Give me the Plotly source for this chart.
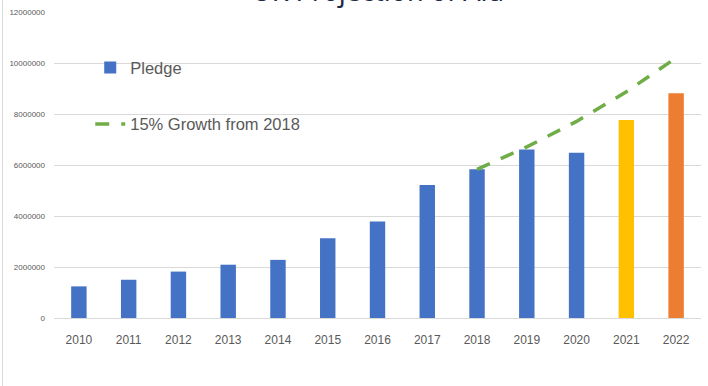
import plotly.graph_objects as go

years = ["2010", "2011", "2012", "2013", "2014", "2015", "2016",
         "2017", "2018", "2019", "2020", "2021", "2022"]
pledge = [1240000, 1500000, 1820000, 2090000, 2280000, 3130000, 3780000,
          5220000, 5830000, 6610000, 6480000, 7760000, 8810000]
bar_colors = ["#4472C4"] * 11 + ["#FFC000", "#ED7D31"]

growth_years = ["2018", "2019", "2020", "2021", "2022"]
growth = [5830000, 6710000, 7710000, 8870000, 10200000]

y_ticks = [0, 2000000, 4000000, 6000000, 8000000, 10000000, 12000000]

W, H = 708, 386
L, R, T, B = 54, 7, 12, 68

fig = go.Figure()
fig.add_trace(go.Bar(
    x=years, y=pledge, name="Pledge",
    marker=dict(color=bar_colors, line=dict(width=0)),
    width=0.31, legendgroup="a",
))
fig.add_trace(go.Scatter(
    x=growth_years, y=growth, name="15% Growth from 2018",
    mode="lines", line=dict(color="#70AD47", width=3.5, dash="14px,12px"),
    legendgroup="b",
))

fig.update_layout(
    width=W, height=H,
    margin=dict(l=L, r=R, t=T, b=B),
    paper_bgcolor="white", plot_bgcolor="white",
    font=dict(family="Liberation Sans, Arial, sans-serif", color="#595959"),
    showlegend=True,
    legend=dict(
        x=0.056, y=0.875, xanchor="left", yanchor="top",
        bgcolor="rgba(0,0,0,0)", borderwidth=0,
        font=dict(size=16.5, color="#595959"),
        traceorder="grouped", tracegroupgap=32,
    ),
    xaxis=dict(
        type="category", range=[-0.5, 12.5],
        showgrid=False, showline=True, linecolor="#d9d9d9", linewidth=1,
        ticks="", tickfont=dict(size=12, color="#595959"),
        ticklabelstandoff=11, zeroline=False,
    ),
    yaxis=dict(
        range=[0, 12000000], tickvals=y_ticks, tickformat="d",
        showgrid=True, gridcolor="#d9d9d9", gridwidth=1.2,
        zeroline=False, showline=False, ticks="",
        tickfont=dict(size=8, color="#595959"),
        ticklabelstandoff=8,
    ),
    bargap=0.69,
)

# title, cropped by the top edge as in the reference
fig.add_annotation(
    text="UK Projection of Aid",
    xref="paper", yref="paper", x=0.5, y=1.0, xanchor="center", yanchor="bottom",
    yshift=1, showarrow=False,
    font=dict(family="Noto Sans, sans-serif", size=27, color="#1F2A44"),
)

# outer chart border on the left
fig.add_shape(type="line", xref="paper", yref="paper",
              x0=(2.5 - L) / (W - L - R), x1=(2.5 - L) / (W - L - R),
              y0=-B / (H - T - B), y1=1 + T / (H - T - B),
              line=dict(color="#d9d9d9", width=1))

fig.write_html("out.html")
